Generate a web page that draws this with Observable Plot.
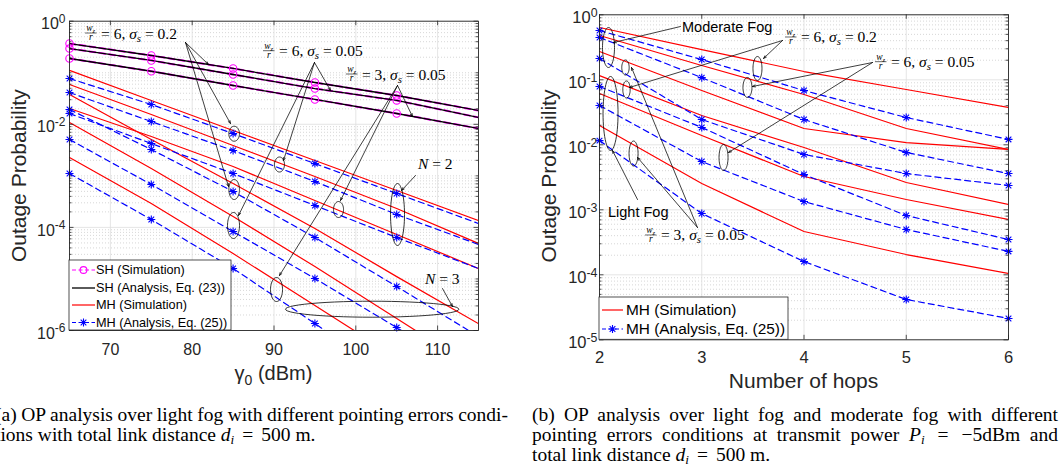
<!DOCTYPE html>
<html>
<head>
<meta charset="utf-8">
<script src="https://cdn.jsdelivr.net/npm/d3@7"></script>
<script src="https://cdn.jsdelivr.net/npm/@observablehq/plot@0.6"></script>
<style>
html,body{margin:0;padding:0;background:#fff;}
body{width:1062px;height:468px;overflow:hidden;position:relative;}
#left{position:absolute;left:0;top:0;}
#right{position:absolute;left:530px;top:0;}
.cap{position:absolute;font-family:"Liberation Serif","Times New Roman",serif;font-size:19.5px;line-height:20px;color:#000;white-space:nowrap;}
.cap .ln{display:block;height:20px;}
.cap i{font-style:italic;}
.cap sub{font-size:0.68em;vertical-align:-0.22em;line-height:0;}
.cap .eq{margin:0 0.16em;}
</style>
</head>
<body>
<div id="left"></div>
<div id="right"></div>
<div class="cap" style="left:-5px;top:405.3px;">
<div class="ln" data-w="513"><span>(a) OP analysis over light fog with different pointing errors condi-</span></div>
<div class="ln"><span>tions with total link distance <i>d<sub>i</sub></i> <span class="eq">=</span> 500 m.</span></div>
</div>
<div class="cap" style="left:532px;top:405.3px;">
<div class="ln" data-w="526"><span>(b) OP analysis over light fog and moderate fog with different</span></div>
<div class="ln" data-w="526"><span>pointing errors conditions at transmit power <i>P<sub>i</sub></i> <span class="eq">=</span> −5dBm and</span></div>
<div class="ln"><span>total link distance <i>d<sub>i</sub></i> <span class="eq">=</span> 500 m.</span></div>
</div>
<script>
const SANS = "'Liberation Sans', Arial, Helvetica, sans-serif";
const SERIF = "'Liberation Serif', 'Times New Roman', serif";

// ===================== (a) left panel data =====================
const gammaDb = [65, 75, 85, 95, 105, 115];          // gamma_0 (dBm)
const xTicksL = [70, 80, 90, 100, 110];
const yTicksL = [1e-6, 1e-4, 1e-2, 1];
// single hop (simulation and analysis coincide)
const sh_6_020 = [0.369, 0.216, 0.121, 0.0647, 0.0362, 0.0185];
const sh_6_005 = [0.295, 0.173, 0.0925, 0.0494, 0.0290, 0.0136];
const sh_3_005 = [0.189, 0.107, 0.0566, 0.0303, 0.0162, 0.0083];
// multi hop analysis (Eq. 25)
const mhAna_6_020_N2 = [0.0773, 0.0242, 0.00662, 0.00173, 4.54e-4, 1.19e-4];
const mhAna_6_005_N2 = [0.0414, 0.0113, 0.0031, 7.76e-4, 1.78e-4, 4.66e-5];
const mhAna_3_005_N2 = [0.0162, 0.00424, 0.00111, 2.66e-4, 6.37e-5, 1.59e-5];
const mhAna_6_020_N3 = [0.0194, 0.00324, 4.97e-4, 6.37e-5, 7.13e-6, 7.64e-7];
const mhAna_6_005_N3 = [0.00507, 6.79e-4, 8.32e-5, 1.02e-5, 1.14e-6, 1.22e-7];
const mhAna_3_005_N3 = [0.00111, 1.42e-4, 1.6e-5, 1.37e-6, 1.07e-7, 1.0e-8];
// multi hop simulation
const mhSim_6_020_N2 = [0.111, 0.029, 0.00759, 0.00199, 5.2e-4, 1.36e-4];
const mhSim_6_005_N2 = [0.0592, 0.0155, 0.00388, 9.73e-4, 2.33e-4, 4.88e-5];
const mhSim_3_005_N2 = [0.0203, 0.0058, 0.00152, 3.33e-4, 7.28e-5, 1.59e-5];
const mhSim_6_020_N3 = [0.0378, 0.00507, 7.1e-4, 9.53e-5, 1.11e-5, 1.36e-6];
const mhSim_6_005_N3 = [0.0108, 0.00139, 1.63e-4, 1.74e-5, 1.71e-6, 1.67e-7];
const mhSim_3_005_N3 = [0.00227, 2.9e-4, 3.11e-5, 3.05e-6, 2.99e-7, 3.0e-8];

// ===================== (b) right panel data =====================
const hops = [2, 3, 4, 5, 6];
const xTicksR = [2, 3, 4, 5, 6];
const yTicksR = [1e-5, 1e-4, 1e-3, 1e-2, 1e-1, 1];
const ana_mod_6_020 = [0.573, 0.205, 0.0684, 0.0263, 0.0121];
const ana_mod_6_005 = [0.448, 0.108, 0.0245, 0.00762, 0.00361];
const ana_mod_3_005 = [0.213, 0.0245, 0.0071, 0.00361, 0.00237];
const ana_lig_6_020 = [0.0789, 0.0185, 0.00349, 8.17e-4, 3.49e-4];
const ana_lig_6_005 = [0.0403, 0.00553, 0.00134, 4.98e-4, 2.29e-4];
const ana_lig_3_005 = [0.0116, 8.77e-4, 1.6e-4, 4.17e-5, 2.13e-5];
const sim_mod_6_020 = [0.638, 0.292, 0.134, 0.071, 0.0375];
const sim_mod_6_005 = [0.481, 0.166, 0.0594, 0.0178, 0.00847];
const sim_mod_3_005 = [0.272, 0.0684, 0.0178, 0.0108, 0.00847];
const sim_lig_6_020 = [0.116, 0.0282, 0.00908, 0.00263, 0.00121];
const sim_lig_6_005 = [0.0615, 0.0139, 0.00325, 0.00144, 7.1e-4];
const sim_lig_3_005 = [0.0198, 0.00254, 4.63e-4, 2.05e-4, 1.05e-4];

// ===================== annotations (data units, y as log10) =====================
const labelsL = [
  {x: 66.96, e: -0.239, val: "6", sig: "0.2"},
  {x: 88.72, e: -0.582, val: "6", sig: "0.05"},
  {x: 98.86, e: -1.034, val: "3", sig: "0.05"}
];
const nLabelsL = [{x: 107.67, e: -2.877, t: "2"}, {x: 108.52, e: -5.108, t: "3"}];
const arrowsL = [
  {x1: 79.18, e1: -0.413, x2: 81.99, e2: -0.840},
  {x1: 79.18, e1: -0.413, x2: 84.68, e2: -1.985},
  {x1: 79.18, e1: -0.413, x2: 84.44, e2: -3.207},
  {x1: 94.95, e1: -0.801, x2: 96.91, e2: -1.344},
  {x1: 94.95, e1: -0.801, x2: 91.16, e2: -2.702},
  {x1: 94.95, e1: -0.801, x2: 85.66, e2: -3.769},
  {x1: 105.10, e1: -1.247, x2: 106.93, e2: -1.849},
  {x1: 105.10, e1: -1.247, x2: 98.13, e2: -3.478},
  {x1: 105.10, e1: -1.247, x2: 90.67, e2: -4.933},
  {x1: 107.30, e1: -2.993, x2: 105.59, e2: -3.284},
  {x1: 110.60, e1: -5.186, x2: 111.82, e2: -5.534}
];
const ellipsesL = [
  {x: 85.13, e: -2.183, rx: 5.3, ry: 7.5},
  {x: 85.13, e: -3.265, rx: 5.3, ry: 10},
  {x: 85.05, e: -3.963, rx: 6, ry: 13},
  {x: 90.67, e: -2.780, rx: 5, ry: 7.5},
  {x: 97.89, e: -3.653, rx: 5, ry: 8},
  {x: 90.31, e: -5.205, rx: 6, ry: 12},
  {x: 105.10, e: -3.750, rx: 7, ry: 31},
  {x: 102.0, e: -5.587, rx: 86.7, ry: 8}
];
const labelsR = [
  {x: 3.819, e: -0.349, val: "6", sig: "0.2"},
  {x: 4.699, e: -0.729, val: "6", sig: "0.05"},
  {x: 2.450, e: -3.395, val: "3", sig: "0.05"}
];
const fogLabelsR = [{x: 2.812, e: -0.268, t: "Moderate Fog"}, {x: 2.088, e: -3.114, t: "Light Fog"}];
const arrowsR = [
  {x1: 2.792, e1: -0.18, x2: 2.137, e2: -0.426},
  {x1: 2.372, e1: -2.842, x2: 2.127, e2: -2.088},
  {x1: 2.958, e1: -3.272, x2: 2.313, e2: -0.811},
  {x1: 2.958, e1: -3.272, x2: 2.372, e2: -2.195},
  {x1: 3.790, e1: -0.395, x2: 3.604, e2: -0.672},
  {x1: 3.790, e1: -0.395, x2: 2.293, e2: -1.118},
  {x1: 4.670, e1: -0.734, x2: 3.496, e2: -1.103},
  {x1: 4.670, e1: -0.734, x2: 3.262, e2: -2.118}
];
const ellipsesR = [
  {x: 2.088, e: -0.503, rx: 6, ry: 20},
  {x: 2.254, e: -0.811, rx: 3.7, ry: 7.5},
  {x: 2.264, e: -1.149, rx: 3.7, ry: 8.5},
  {x: 2.108, e: -1.518, rx: 7.5, ry: 37},
  {x: 2.333, e: -2.134, rx: 4.5, ry: 12.5},
  {x: 3.545, e: -0.826, rx: 4.5, ry: 12},
  {x: 3.447, e: -1.118, rx: 4.5, ry: 10},
  {x: 3.213, e: -2.195, rx: 4.5, ry: 13}
];

// ===================== helpers =====================
function rows(xs, ys, key) { return xs.map((x, i) => ({x, y: ys[i], key})); }
function logMinor(e0, e1, skip) {
  const out = [];
  for (let e = e0; e < e1; e++) {
    for (let k = 2; k <= 9; k++) out.push(k * Math.pow(10, e));
    if (skip && !skip.includes(e) && e > e0) out.push(Math.pow(10, e));
  }
  return out;
}
const asterisk = {draw(ctx, size) {
  const r = Math.sqrt(size / Math.PI), d = r * Math.SQRT1_2;
  ctx.moveTo(-r, 0); ctx.lineTo(r, 0);
  ctx.moveTo(0, -r); ctx.lineTo(0, r);
  ctx.moveTo(-d, -d); ctx.lineTo(d, d);
  ctx.moveTo(-d, d); ctx.lineTo(d, -d);
}};
const ellipseSym = (rx, ry) => ({draw(ctx) {
  const n = 56;
  for (let i = 0; i <= n; i++) {
    const t = 2 * Math.PI * i / n, px = rx * Math.cos(t), py = ry * Math.sin(t);
    if (i === 0) ctx.moveTo(px, py); else ctx.lineTo(px, py);
  }
  ctx.closePath();
}});
function ellipseMarks(list) {
  return list.map(e => Plot.dot([e], {x: "x", y: d => Math.pow(10, d.e), r: 1, symbol: ellipseSym(e.rx, e.ry),
    stroke: "#000", strokeWidth: 0.8, fill: "none"}));
}
function arrowMark(list) {
  return Plot.arrow(list, {x1: "x1", y1: d => Math.pow(10, d.e1), x2: "x2", y2: d => Math.pow(10, d.e2),
    stroke: "#000", strokeWidth: 0.75, headLength: 6, headAngle: 40});
}
function boxTicks(xMaj, yMaj, yMin, W, H) {
  const st = {stroke: "#262626", strokeWidth: 0.8};
  return [
    Plot.tickX(xMaj, {x: d => d, insetTop: H - 4.5, ...st}),
    Plot.tickX(xMaj, {x: d => d, insetBottom: H - 4.5, ...st}),
    Plot.tickY(yMaj, {y: d => d, insetRight: W - 4.5, ...st}),
    Plot.tickY(yMaj, {y: d => d, insetLeft: W - 4.5, ...st}),
    Plot.tickY(yMin, {y: d => d, insetRight: W - 2.5, ...st}),
    Plot.tickY(yMin, {y: d => d, insetLeft: W - 2.5, ...st})
  ];
}
const pow10fmt = d => "10^" + Math.round(Math.log10(d));

// ===================== build tables =====================
const shRows = [rows(gammaDb, sh_6_020, "a"), rows(gammaDb, sh_6_005, "b"), rows(gammaDb, sh_3_005, "c")].flat();
const anaRowsL = [
  rows(gammaDb, mhAna_6_020_N2, "a2"), rows(gammaDb, mhAna_6_005_N2, "b2"), rows(gammaDb, mhAna_3_005_N2, "c2"),
  rows(gammaDb, mhAna_6_020_N3, "a3"), rows(gammaDb, mhAna_6_005_N3, "b3"), rows(gammaDb, mhAna_3_005_N3, "c3")
].flat();
const simRowsL = [
  rows(gammaDb, mhSim_6_020_N2, "a2"), rows(gammaDb, mhSim_6_005_N2, "b2"), rows(gammaDb, mhSim_3_005_N2, "c2"),
  rows(gammaDb, mhSim_6_020_N3, "a3"), rows(gammaDb, mhSim_6_005_N3, "b3"), rows(gammaDb, mhSim_3_005_N3, "c3")
].flat();
const anaRowsR = [
  rows(hops, ana_mod_6_020, "m1"), rows(hops, ana_mod_6_005, "m2"), rows(hops, ana_mod_3_005, "m3"),
  rows(hops, ana_lig_6_020, "l1"), rows(hops, ana_lig_6_005, "l2"), rows(hops, ana_lig_3_005, "l3")
].flat();
const simRowsR = [
  rows(hops, sim_mod_6_020, "m1"), rows(hops, sim_mod_6_005, "m2"), rows(hops, sim_mod_3_005, "m3"),
  rows(hops, sim_lig_6_020, "l1"), rows(hops, sim_lig_6_005, "l2"), rows(hops, sim_lig_3_005, "l3")
].flat();

const minorL = logMinor(-6, 0, [-6, -4, -2, 0]);
const minorR = logMinor(-5, 0);
const WL = 409, HL = 309.3, WR = 409, HR = 325;

// ===================== left plot =====================
const leftPlot = Plot.plot({
  width: 530, height: 385,
  marginLeft: 69, marginRight: 52, marginTop: 20.7, marginBottom: 55,
  x: {domain: [65, 115]},
  y: {type: "log", domain: [1e-6, 1]},
  style: {fontFamily: SANS, color: "#262626", background: "transparent", overflow: "visible"},
  marks: [
    Plot.ruleY(minorL, {stroke: "#bcbcbc", strokeWidth: 0.6, strokeDasharray: "1,2"}),
    Plot.ruleY(yTicksL, {stroke: "#dedede", strokeWidth: 0.8}),
    Plot.ruleX(xTicksL, {stroke: "#dedede", strokeWidth: 0.8}),
    Plot.line(shRows, {x: "x", y: "y", z: "key", stroke: "#ff00ff", strokeWidth: 2, strokeDasharray: "6,4", clip: true}),
    Plot.line(shRows, {x: "x", y: "y", z: "key", stroke: "#000", strokeWidth: 1.3, clip: true}),
    Plot.line(simRowsL, {x: "x", y: "y", z: "key", stroke: "#ff0000", strokeWidth: 1.2, clip: true}),
    Plot.line(anaRowsL, {x: "x", y: "y", z: "key", stroke: "#0000ff", strokeWidth: 1.2, strokeDasharray: "6,4", clip: true}),
    Plot.dot(shRows.filter(d => d.x <= 105), {x: "x", y: "y", r: 3.7, stroke: "#ff00ff", strokeWidth: 1.1, fill: "none"}),
    Plot.dot(anaRowsL.filter(d => d.x <= 105 && d.y >= 1e-6), {x: "x", y: "y", r: 4, symbol: asterisk, stroke: "#0000ff", strokeWidth: 1.1, fill: "none"}),
    ...ellipseMarks(ellipsesL),
    arrowMark(arrowsL),
    Plot.frame({stroke: "#262626", strokeWidth: 0.9}),
    ...boxTicks(xTicksL, yTicksL, minorL, WL, HL),
    Plot.axisX({ticks: xTicksL, tickSize: 0, tickPadding: 13, fontSize: 16, tickFormat: d => String(d), label: null}),
    Plot.axisY({ticks: yTicksL, tickSize: 0, tickPadding: 4, fontSize: 16, tickFormat: pow10fmt, label: null})
  ]
});
document.getElementById("left").append(leftPlot);

// ===================== right plot =====================
const rightPlot = Plot.plot({
  width: 532, height: 400,
  marginLeft: 69, marginRight: 54, marginTop: 14.3, marginBottom: 60.7,
  x: {domain: [2, 6]},
  y: {type: "log", domain: [1e-5, 1]},
  style: {fontFamily: SANS, color: "#262626", background: "transparent", overflow: "visible"},
  marks: [
    Plot.ruleY(minorR, {stroke: "#bcbcbc", strokeWidth: 0.6, strokeDasharray: "1,2"}),
    Plot.ruleY(yTicksR, {stroke: "#dedede", strokeWidth: 0.8}),
    Plot.ruleX(xTicksR, {stroke: "#dedede", strokeWidth: 0.8}),
    Plot.line(simRowsR, {x: "x", y: "y", z: "key", stroke: "#ff0000", strokeWidth: 1.2, clip: true}),
    Plot.line(anaRowsR, {x: "x", y: "y", z: "key", stroke: "#0000ff", strokeWidth: 1.2, strokeDasharray: "6,4", clip: true}),
    Plot.dot(anaRowsR, {x: "x", y: "y", r: 4, symbol: asterisk, stroke: "#0000ff", strokeWidth: 1.1, fill: "none"}),
    ...ellipseMarks(ellipsesR),
    arrowMark(arrowsR),
    Plot.frame({stroke: "#262626", strokeWidth: 0.9}),
    ...boxTicks(xTicksR, yTicksR, minorR, WR, HR),
    Plot.axisX({ticks: xTicksR, tickSize: 0, tickPadding: 11, fontSize: 16.5, tickFormat: d => String(d), label: null}),
    Plot.axisY({ticks: yTicksR, tickSize: 0, tickPadding: 2, fontSize: 16.5, tickFormat: pow10fmt, label: null})
  ]
});
document.getElementById("right").append(rightPlot);

// ===================== post render text =====================
function supTicks(svg) {
  d3.select(svg).selectAll('g[aria-label="y-axis tick label"] text').each(function () {
    const parts = this.textContent.split("^");
    if (parts.length !== 2) return;
    this.textContent = "";
    const t = d3.select(this);
    t.append("tspan").attr("dy", 3).text(parts[0]);
    t.append("tspan").attr("dy", -6.5).attr("font-size", "0.75em").text(parts[1]);
  });
}
function fracLabel(g, x0, yb, val, sig) {
  const fs = 15.5, fw = 11.5;
  const G = g.append("g").attr("font-family", SERIF).attr("fill", "#000").attr("text-anchor", "start").style("white-space", "pre");
  const num = G.append("text").attr("x", x0 + 1.2).attr("y", yb - 1.6).attr("font-size", 9.5).attr("font-style", "italic");
  num.append("tspan").text("w");
  num.append("tspan").attr("font-size", 6.5).attr("dy", 1.5).text("z");
  G.append("line").attr("x1", x0).attr("x2", x0 + fw).attr("y1", yb).attr("y2", yb).attr("stroke", "#000").attr("stroke-width", 0.6);
  G.append("text").attr("x", x0 + fw / 2).attr("y", yb + 7.3).attr("text-anchor", "middle").attr("font-size", 9.5).attr("font-style", "italic").text("r");
  const t = G.append("text").attr("x", x0 + 16).attr("y", yb + 5.5).attr("font-size", fs);
  t.append("tspan").text("= " + val + ", ");
  t.append("tspan").attr("font-style", "italic").text("σ");
  t.append("tspan").attr("font-size", fs * 0.7).attr("font-style", "italic").attr("dy", 3).text("s");
  t.append("tspan").attr("dy", -3).text(" = " + sig);
}
function legend(g, x, y, w, h, items, fs, rowY, xs0, xs1, xt) {
  const L = g.append("g").attr("text-anchor", "start");
  L.append("rect").attr("x", x).attr("y", y).attr("width", w).attr("height", h)
    .attr("fill", "#fff").attr("stroke", "#262626").attr("stroke-width", 0.8);
  items.forEach((it, i) => {
    const yy = rowY[i];
    L.append("line").attr("x1", xs0).attr("x2", xs1).attr("y1", yy).attr("y2", yy)
      .attr("stroke", it.c).attr("stroke-width", it.w || 1.2).attr("stroke-dasharray", it.dash || null);
    const cx = (xs0 + xs1) / 2;
    if (it.m === "o") L.append("circle").attr("cx", cx).attr("cy", yy).attr("r", 3.4).attr("fill", "none").attr("stroke", it.c).attr("stroke-width", 1.1);
    if (it.m === "*") {
      const p = d3.path(); asterisk.draw(p, 16 * Math.PI);
      L.append("path").attr("d", p.toString()).attr("transform", `translate(${cx},${yy})`).attr("stroke", it.c).attr("stroke-width", 1.1).attr("fill", "none");
    }
    L.append("text").attr("x", xt).attr("y", yy).attr("dy", "0.35em").attr("text-anchor", "start")
      .attr("font-family", SANS).attr("font-size", fs).attr("fill", "#000").text(it.t);
  });
}

(function decorateLeft() {
  const svg = leftPlot, s = d3.select(svg);
  const X = svg.scale("x"), Y = svg.scale("y");
  supTicks(svg);
  labelsL.forEach(l => fracLabel(s, X.apply(l.x), Y.apply(Math.pow(10, l.e)), l.val, l.sig));
  nLabelsL.forEach(l => {
    const t = s.append("text").attr("x", X.apply(l.x)).attr("y", Y.apply(Math.pow(10, l.e))).attr("text-anchor", "start")
      .attr("font-family", SERIF).attr("font-size", 15.5).attr("fill", "#000").style("white-space", "pre");
    t.append("tspan").attr("font-style", "italic").text("N");
    t.append("tspan").text(" = " + l.t);
  });
  legend(s, 69, 260, 162, 70, [
    {c: "#ff00ff", dash: "4,2.5", m: "o", t: "SH (Simulation)"},
    {c: "#000", w: 1.3, t: "SH (Analysis, Eq. (23))"},
    {c: "#ff0000", t: "MH (Simulation)"},
    {c: "#0000ff", dash: "4,2.5", m: "*", t: "MH (Analysis, Eq. (25))"}
  ], 12.7, [270, 288, 305, 322.5], 72, 95, 96);
  const xt = s.append("text").attr("x", 273.5).attr("y", 379.5).attr("text-anchor", "middle")
    .attr("font-family", SANS).attr("font-size", 20).attr("fill", "#262626").style("white-space", "pre");
  xt.append("tspan").text("γ");
  xt.append("tspan").attr("font-size", 14).attr("dy", 5).text("0");
  xt.append("tspan").attr("dy", -5).text(" (dBm)");
  s.append("text").attr("transform", "translate(26,175.7) rotate(-90)").attr("text-anchor", "middle")
    .attr("font-family", SANS).attr("font-size", 21).attr("fill", "#262626").text("Outage Probability");
})();

(function decorateRight() {
  const svg = rightPlot, s = d3.select(svg);
  const X = svg.scale("x"), Y = svg.scale("y");
  supTicks(svg);
  labelsR.forEach(l => fracLabel(s, X.apply(l.x), Y.apply(Math.pow(10, l.e)), l.val, l.sig));
  fogLabelsR.forEach(l => {
    s.append("text").attr("x", X.apply(l.x)).attr("y", Y.apply(Math.pow(10, l.e))).attr("text-anchor", "start")
      .attr("font-family", SANS).attr("font-size", 14.5).attr("fill", "#000").text(l.t);
  });
  legend(s, 69, 297, 189, 42.3, [
    {c: "#ff0000", t: "MH (Simulation)"},
    {c: "#0000ff", dash: "4,2.5", m: "*", t: "MH (Analysis, Eq. (25))"}
  ], 15.4, [310, 329], 72, 93, 96);
  s.append("text").attr("x", 273.5).attr("y", 388).attr("text-anchor", "middle")
    .attr("font-family", SANS).attr("font-size", 21).attr("fill", "#262626").text("Number of hops");
  s.append("text").attr("transform", "translate(26,176) rotate(-90)").attr("text-anchor", "middle")
    .attr("font-family", SANS).attr("font-size", 21).attr("fill", "#262626").text("Outage Probability");
})();

// justify caption lines
document.querySelectorAll(".ln[data-w]").forEach(ln => {
  const sp = ln.querySelector("span");
  const w = sp.getBoundingClientRect().width;
  const n = (sp.textContent.match(/ /g) || []).length;
  if (n) sp.style.wordSpacing = ((+ln.dataset.w - w) / n) + "px";
});
</script>
</body>
</html>
